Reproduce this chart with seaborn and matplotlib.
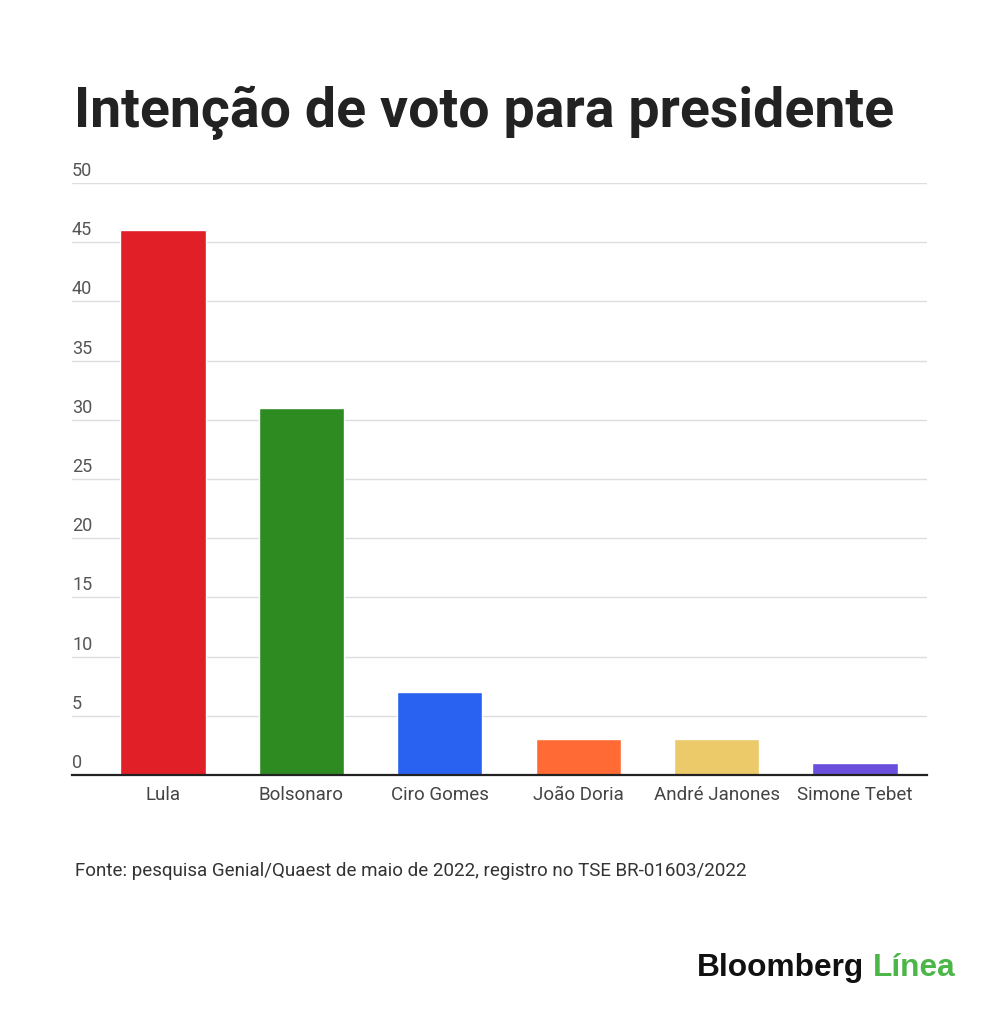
import matplotlib
matplotlib.use("Agg")
import matplotlib.pyplot as plt
import seaborn as sns
import pandas as pd
from matplotlib import transforms

candidates = ["Lula", "Bolsonaro", "Ciro Gomes", "João Doria", "André Janones", "Simone Tebet"]
votes = [46, 31, 7, 3, 3, 1]
colors = ["#e01f26", "#2e8b22", "#2962f0", "#ff6a35", "#ecca6a", "#6a4fdc"]
yticks = [0, 5, 10, 15, 20, 25, 30, 35, 40, 45, 50]
title = "Intenção de voto para presidente"
source = "Fonte: pesquisa Genial/Quaest de maio de 2022, registro no TSE BR-01603/2022"

sns.set_theme(style="white")
plt.rcParams["font.family"] = ["Roboto", "DejaVu Sans"]

df = pd.DataFrame({"candidate": candidates, "votes": votes})

fig = plt.figure(figsize=(10, 10.1), dpi=100)
ax = fig.add_axes([0.072, 0.2327, 0.855, 0.586])

sns.barplot(data=df, x="candidate", y="votes", hue="candidate", palette=colors,
            width=0.615, saturation=1, legend=False, ax=ax, zorder=3)

ax.set_xlim(-0.657, 5.52)
ax.set_ylim(0, 50)
ax.set_yticks(yticks)
ax.set_yticklabels([])
ax.tick_params(axis="y", length=0)
ax.grid(axis="y", color="#dddddd", linewidth=1, zorder=0)
ax.set_axisbelow(True)
for s in ["top", "right", "left"]:
    ax.spines[s].set_visible(False)
ax.spines["bottom"].set_color("#222222")
ax.spines["bottom"].set_linewidth(1.6)
ax.spines["bottom"].set_zorder(5)

trans = ax.get_yaxis_transform()
off = transforms.offset_copy(trans, fig=fig, x=0, y=3, units="dots")
for v in yticks:
    ax.text(0, v, str(v), transform=off, ha="left", va="bottom",
            fontsize=13, color="#555555")

ax.tick_params(axis="x", length=0, pad=8, labelsize=13.5, labelcolor="#444444")
ax.set_xlabel("")
ax.set_ylabel("")

fig.text(0.074, 0.888, title, fontsize=40, fontweight="bold", color="#222222",
         ha="left", va="center")
fig.text(0.075, 0.138, source, fontsize=13.5, color="#333333", ha="left", va="center")

t1 = fig.text(0.697, 0.042, "Bloomberg", fontsize=22.8, fontweight="bold",
              color="#111111", ha="left", va="center",
              family=["Liberation Sans", "DejaVu Sans"])
fig.canvas.draw()
bb = t1.get_window_extent()
x2 = (bb.x1 + 9) / fig.bbox.width
fig.text(x2, 0.042, "Línea", fontsize=22.8, fontweight="bold", color="#4cb748",
         ha="left", va="center", family=["Liberation Sans", "DejaVu Sans"])

fig.savefig("out.png", dpi=100, facecolor="white")
